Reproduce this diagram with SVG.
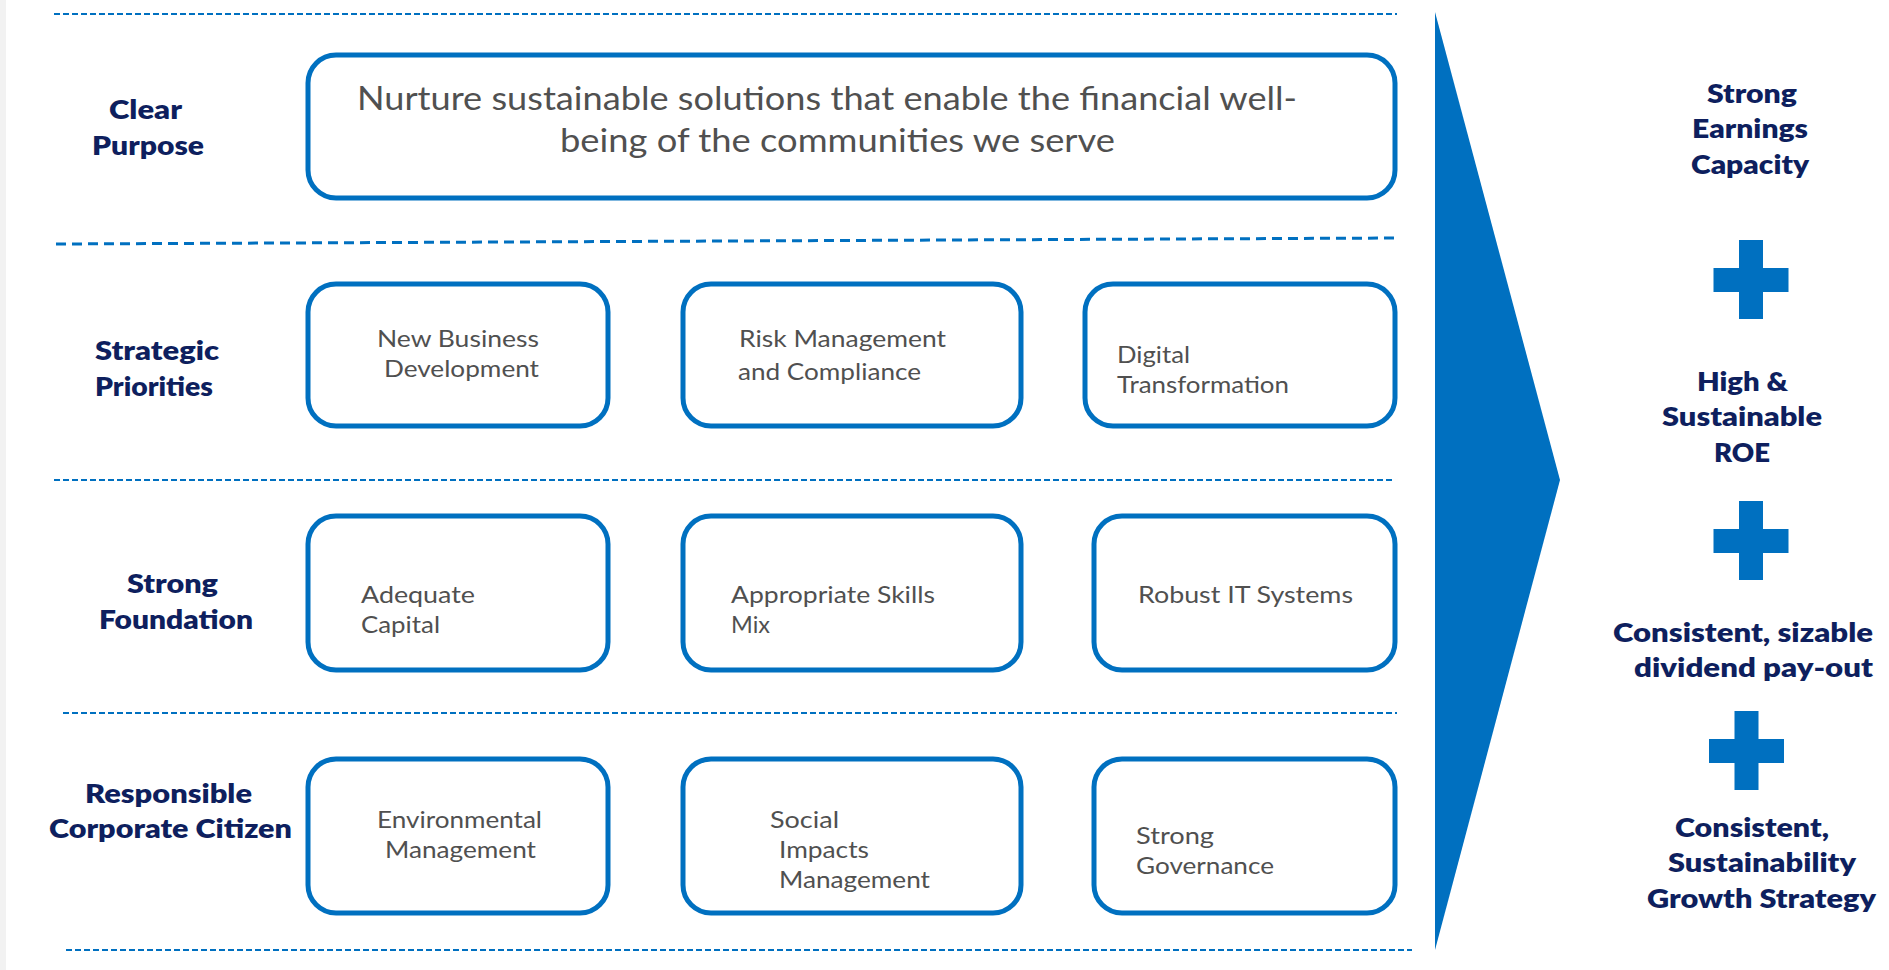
<svg xmlns="http://www.w3.org/2000/svg" width="1889" height="970" viewBox="0 0 1889 970">
<style>
.box{fill:#fff;stroke:#0070C0;stroke-width:5}
.dash{stroke:#0070C0;stroke-width:2;fill:none;stroke-dasharray:6 3}
.dash2{stroke:#0070C0;stroke-width:3;fill:none;stroke-dasharray:10 6}
.lbl{font-family:Lato,"Liberation Sans",sans-serif;font-weight:800;font-size:26px;fill:#0E1F5E}
.bt{font-family:Lato,"Liberation Sans",sans-serif;font-weight:400;font-size:23px;fill:#505050}
.big{font-size:32px}
.blue{fill:#0070C0}
</style>
<defs>
<path id="plus" d="M-12,-40H12V-12H37.5V12H12V39H-12V12H-37.5V-12H-12Z"/>
</defs>
<rect x="0" y="0" width="1889" height="970" fill="#fff"/>
<rect x="0" y="0" width="6" height="970" fill="#f2f2f2"/>

<g id="separators">
<line class="dash" x1="54" y1="14" x2="1397" y2="14"/>
<line class="dash2" x1="56" y1="244" x2="1397" y2="238"/>
<line class="dash" x1="54" y1="480" x2="1394" y2="480"/>
<line class="dash" x1="63" y1="713" x2="1397" y2="713"/>
<line class="dash" x1="66" y1="950" x2="1412" y2="950"/>
</g>

<g id="arrow">
<polygon class="blue" points="1435,12 1560,480 1435,950"/>
</g>

<g id="row-labels">
<text class="lbl" x="109" y="119" textLength="73" lengthAdjust="spacingAndGlyphs">Clear</text>
<text class="lbl" x="92" y="155" textLength="112" lengthAdjust="spacingAndGlyphs">Purpose</text>
<text class="lbl" x="95" y="360" textLength="124" lengthAdjust="spacingAndGlyphs">Strategic</text>
<text class="lbl" x="95" y="396" textLength="118" lengthAdjust="spacingAndGlyphs">Priorities</text>
<text class="lbl" x="127" y="593" textLength="91" lengthAdjust="spacingAndGlyphs">Strong</text>
<text class="lbl" x="99" y="629" textLength="154" lengthAdjust="spacingAndGlyphs">Foundation</text>
<text class="lbl" x="85" y="803" textLength="167" lengthAdjust="spacingAndGlyphs">Responsible</text>
<text class="lbl" x="49" y="838" textLength="243" lengthAdjust="spacingAndGlyphs">Corporate Citizen</text>
</g>

<g id="purpose">
<rect class="box" x="308" y="55" width="1087" height="143" rx="28"/>
<text class="bt big" x="357" y="110" textLength="940" lengthAdjust="spacingAndGlyphs">Nurture sustainable solutions that enable the financial well-</text>
<text class="bt big" x="560" y="152" textLength="555" lengthAdjust="spacingAndGlyphs">being of the communities we serve</text>
</g>

<g id="new-business">
<rect class="box" x="308" y="284" width="300" height="142" rx="28"/>
<text class="bt" x="377" y="347" textLength="162" lengthAdjust="spacingAndGlyphs">New Business</text>
<text class="bt" x="384" y="377" textLength="155" lengthAdjust="spacingAndGlyphs">Development</text>
</g>
<g id="risk-management">
<rect class="box" x="683" y="284" width="338" height="142" rx="28"/>
<text class="bt" x="739" y="347" textLength="207" lengthAdjust="spacingAndGlyphs">Risk Management</text>
<text class="bt" x="738" y="380" textLength="183" lengthAdjust="spacingAndGlyphs">and Compliance</text>
</g>
<g id="digital">
<rect class="box" x="1085" y="284" width="310" height="142" rx="28"/>
<text class="bt" x="1117" y="363" textLength="73" lengthAdjust="spacingAndGlyphs">Digital</text>
<text class="bt" x="1117" y="393" textLength="172" lengthAdjust="spacingAndGlyphs">Transformation</text>
</g>

<g id="adequate-capital">
<rect class="box" x="308" y="516" width="300" height="154" rx="28"/>
<text class="bt" x="361" y="603" textLength="114" lengthAdjust="spacingAndGlyphs">Adequate</text>
<text class="bt" x="361" y="633" textLength="79" lengthAdjust="spacingAndGlyphs">Capital</text>
</g>
<g id="skills-mix">
<rect class="box" x="683" y="516" width="338" height="154" rx="28"/>
<text class="bt" x="731" y="603" textLength="204" lengthAdjust="spacingAndGlyphs">Appropriate Skills</text>
<text class="bt" x="731" y="633" textLength="39" lengthAdjust="spacingAndGlyphs">Mix</text>
</g>
<g id="it-systems">
<rect class="box" x="1094" y="516" width="301" height="154" rx="28"/>
<text class="bt" x="1138" y="603" textLength="215" lengthAdjust="spacingAndGlyphs">Robust IT Systems</text>
</g>

<g id="environmental">
<rect class="box" x="308" y="759" width="300" height="154" rx="28"/>
<text class="bt" x="377" y="828" textLength="165" lengthAdjust="spacingAndGlyphs">Environmental</text>
<text class="bt" x="385" y="858" textLength="151" lengthAdjust="spacingAndGlyphs">Management</text>
</g>
<g id="social">
<rect class="box" x="683" y="759" width="338" height="154" rx="28"/>
<text class="bt" x="770" y="828" textLength="69" lengthAdjust="spacingAndGlyphs">Social</text>
<text class="bt" x="779" y="858" textLength="90" lengthAdjust="spacingAndGlyphs">Impacts</text>
<text class="bt" x="779" y="888" textLength="151" lengthAdjust="spacingAndGlyphs">Management</text>
</g>
<g id="governance">
<rect class="box" x="1094" y="759" width="301" height="154" rx="28"/>
<text class="bt" x="1136" y="844" textLength="78" lengthAdjust="spacingAndGlyphs">Strong</text>
<text class="bt" x="1136" y="874" textLength="138" lengthAdjust="spacingAndGlyphs">Governance</text>
</g>

<g id="outcomes">
<text class="lbl" x="1707" y="103" textLength="90" lengthAdjust="spacingAndGlyphs">Strong</text>
<text class="lbl" x="1692" y="138" textLength="116" lengthAdjust="spacingAndGlyphs">Earnings</text>
<text class="lbl" x="1691" y="174" textLength="118" lengthAdjust="spacingAndGlyphs">Capacity</text>
<use href="#plus" class="blue" x="1751" y="280"/>
<text class="lbl" x="1697" y="391" textLength="91" lengthAdjust="spacingAndGlyphs">High &amp;</text>
<text class="lbl" x="1662" y="426" textLength="160" lengthAdjust="spacingAndGlyphs">Sustainable</text>
<text class="lbl" x="1714" y="462" textLength="56" lengthAdjust="spacingAndGlyphs">ROE</text>
<use href="#plus" class="blue" x="1751" y="541"/>
<text class="lbl" x="1613" y="642" textLength="260" lengthAdjust="spacingAndGlyphs">Consistent, sizable</text>
<text class="lbl" x="1634" y="677" textLength="239" lengthAdjust="spacingAndGlyphs">dividend pay-out</text>
<use href="#plus" class="blue" x="1746.5" y="751"/>
<text class="lbl" x="1675" y="837" textLength="154" lengthAdjust="spacingAndGlyphs">Consistent,</text>
<text class="lbl" x="1668" y="872" textLength="188" lengthAdjust="spacingAndGlyphs">Sustainability</text>
<text class="lbl" x="1647" y="908" textLength="229" lengthAdjust="spacingAndGlyphs">Growth Strategy</text>
</g>
</svg>
